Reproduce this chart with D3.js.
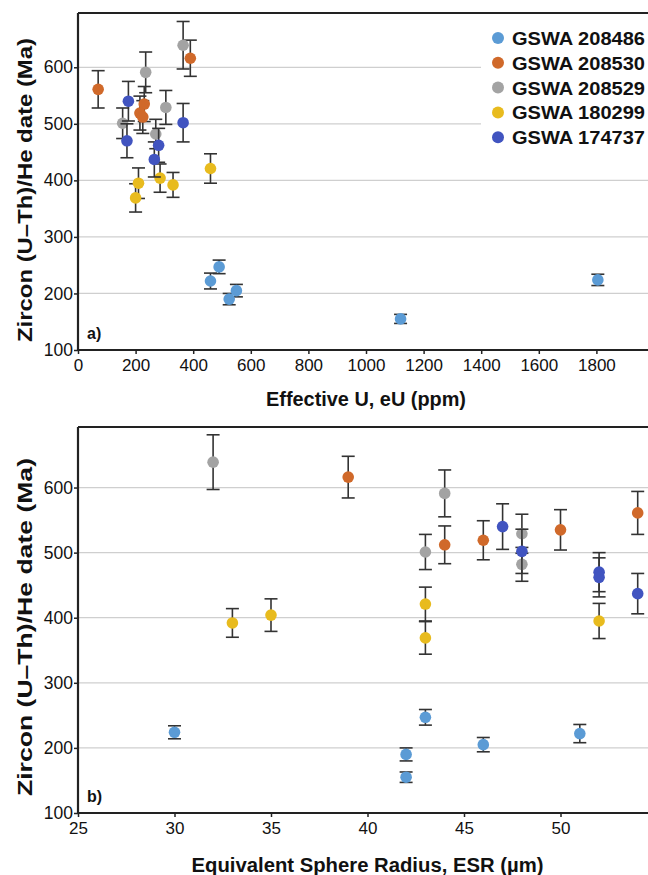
<!DOCTYPE html>
<html>
<head>
<meta charset="utf-8">
<script src="https://cdn.jsdelivr.net/npm/d3@7"></script>
<style>
  body { margin: 0; background: #fff; }
  svg { font-family: "Liberation Sans", Arial, sans-serif; }
</style>
</head>
<body>
<svg id="chart" width="648" height="875"></svg>
<script>
// samples: each point = [eU (ppm), ESR (µm), date (Ma), 1σ error (Ma)]
const sampleNames = ['GSWA 208486', 'GSWA 208530', 'GSWA 208529', 'GSWA 180299', 'GSWA 174737'];
const sampleColors = ['#5b9bd5', '#d0692a', '#a3a3a3', '#e8bb1e', '#4154c0'];

const gswa208486 = [[1120, 42, 155, 8], [525, 42, 190, 10], [550, 46, 205, 11], [490, 43, 247, 12], [460, 51, 222, 14], [1805, 30, 224, 10]];
const gswa208530 = [[390, 39, 616, 32], [70, 54, 561, 33], [230, 50, 535, 31], [215, 46, 519, 30], [225, 44, 512, 29]];
const gswa208529 = [[365, 32, 639, 42], [235, 44, 591, 36], [305, 48, 529, 30], [155, 43, 501, 27], [270, 48, 482, 26]];
const gswa180299 = [[460, 43, 421, 26], [285, 35, 404, 25], [210, 52, 395, 27], [330, 33, 392, 22], [200, 43, 369, 25]];
const gswa174737 = [[175, 47, 540, 35], [365, 48, 502, 34], [170, 52, 470, 30], [280, 52, 462, 30], [265, 54, 437, 31]];

const eUTicks = [0, 200, 400, 600, 800, 1000, 1200, 1400, 1600, 1800];
const esrTicks = [25, 30, 35, 40, 45, 50];
const dateTicks = [100, 200, 300, 400, 500, 600];

const series = [gswa208486, gswa208530, gswa208529, gswa180299, gswa174737];

const svg = d3.select('#chart');

function drawPanel(opts) {
  const { top, bottom, xDomain, xTicks, xIndex, yMax, xTitle, xTitleY, xTitleLen, yTitleY, yTitleLen, letter } = opts;
  const left = 78, right = opts.right;

  const x = d3.scaleLinear().domain(xDomain).range([left, right]);
  const y = d3.scaleLinear().domain([100, yMax]).range([bottom, top]);

  const g = svg.append('g');

  // gridlines
  g.selectAll('line.grid')
    .data(dateTicks.filter((d) => d > 100))
    .enter()
    .append('line')
    .attr('class', 'grid')
    .attr('x1', left)
    .attr('x2', 648)
    .attr('y1', (d) => y(d))
    .attr('y2', (d) => y(d))
    .attr('stroke', '#cfcfcf')
    .attr('stroke-width', 1.3);

  // top border
  g.append('line')
    .attr('x1', left).attr('x2', 648)
    .attr('y1', top).attr('y2', top)
    .attr('stroke', '#222').attr('stroke-width', 2);

  const xAxis = g.append('g')
    .attr('transform', 'translate(0,' + bottom + ')')
    .call(d3.axisBottom(x).tickValues(xTicks).tickFormat(d3.format('d'))
      .tickSize(4).tickSizeOuter(0).tickPadding(5));
  const yAxis = g.append('g')
    .attr('transform', 'translate(' + left + ',0)')
    .call(d3.axisLeft(y).tickValues(dateTicks).tickSize(4).tickSizeOuter(0).tickPadding(1));

  [xAxis, yAxis].forEach((a) => {
    a.select('.domain').attr('stroke', '#222').attr('stroke-width', 2.2);
    a.selectAll('.tick line').attr('stroke', '#222').attr('stroke-width', 1.5);
    a.selectAll('.tick text')
      .attr('fill', '#111')
      .style('font-size', '17px');
  });
  yAxis.selectAll('.tick text').style('font-size', '17.5px');
  yAxis.select('.domain').attr('d', 'M0,' + bottom + 'V' + top);
  xAxis.select('.domain').attr('d', 'M' + left + ',0H648');

  // points with error bars
  series.forEach((pts, si) => {
    const pg = g.append('g');
    const bars = pg.selectAll('g.err')
      .data(pts)
      .enter()
      .append('g')
      .attr('class', 'err')
      .attr('stroke', '#333')
      .attr('stroke-width', 1.6);
    bars.append('line')
      .attr('x1', (d) => x(d[xIndex])).attr('x2', (d) => x(d[xIndex]))
      .attr('y1', (d) => y(d[2] - d[3])).attr('y2', (d) => y(d[2] + d[3]));
    bars.append('line')
      .attr('x1', (d) => x(d[xIndex]) - 6.5).attr('x2', (d) => x(d[xIndex]) + 6.5)
      .attr('y1', (d) => y(d[2] - d[3])).attr('y2', (d) => y(d[2] - d[3]));
    bars.append('line')
      .attr('x1', (d) => x(d[xIndex]) - 6.5).attr('x2', (d) => x(d[xIndex]) + 6.5)
      .attr('y1', (d) => y(d[2] + d[3])).attr('y2', (d) => y(d[2] + d[3]));
    pg.selectAll('circle')
      .data(pts)
      .enter()
      .append('circle')
      .attr('cx', (d) => x(d[xIndex]))
      .attr('cy', (d) => y(d[2]))
      .attr('r', 5.8)
      .attr('fill', sampleColors[si]);
  });

  // axis titles
  g.append('text')
    .attr('x', (left + right) / 2)
    .attr('y', xTitleY)
    .attr('text-anchor', 'middle')
    .attr('textLength', xTitleLen)
    .attr('lengthAdjust', 'spacingAndGlyphs')
    .style('font-size', '20px')
    .style('font-weight', 'bold')
    .attr('fill', '#111')
    .text(xTitle);

  g.append('text')
    .attr('transform', 'translate(32,' + yTitleY + ') rotate(-90)')
    .attr('text-anchor', 'middle')
    .attr('textLength', yTitleLen)
    .attr('lengthAdjust', 'spacingAndGlyphs')
    .style('font-size', '21px')
    .style('font-weight', 'bold')
    .attr('fill', '#111')
    .text('Zircon (U–Th)/He date  (Ma)');

  g.append('text')
    .attr('x', 87)
    .attr('y', bottom - 11)
    .style('font-size', '16px')
    .style('font-weight', 'bold')
    .attr('fill', '#111')
    .text(letter);

  return g;
}

const topPanel = drawPanel({
  top: 13, bottom: 350, right: 654, xDomain: [0, 2000], xTicks: eUTicks, xIndex: 0,
  yMax: 696, xTitle: 'Effective U, eU (ppm)', xTitleY: 406, xTitleLen: 200,
  yTitleY: 190, yTitleLen: 304, letter: 'a)'
});

drawPanel({
  top: 427, bottom: 813, right: 657, xDomain: [25, 55], xTicks: esrTicks, xIndex: 1,
  yMax: 693, xTitle: 'Equivalent Sphere Radius, ESR (µm)', xTitleY: 872, xTitleLen: 352,
  yTitleY: 627, yTitleLen: 338, letter: 'b)'
});

// legend (top panel)
const legend = topPanel.append('g').attr('transform', 'translate(481,24)');
legend.append('rect')
  .attr('width', 170).attr('height', 128)
  .attr('fill', '#fff');
const items = legend.selectAll('g.item')
  .data(sampleNames)
  .enter()
  .append('g')
  .attr('class', 'item')
  .attr('transform', (d, i) => 'translate(0,' + (14 + i * 24.8) + ')');
items.append('circle')
  .attr('cx', 17).attr('cy', 0).attr('r', 6)
  .attr('fill', (d, i) => sampleColors[i]);
items.append('text')
  .attr('x', 31).attr('y', 7)
  .attr('textLength', 133)
  .attr('lengthAdjust', 'spacingAndGlyphs')
  .style('font-size', '19px')
  .style('font-weight', 'bold')
  .attr('fill', '#111')
  .text((d) => d);
</script>
</body>
</html>
